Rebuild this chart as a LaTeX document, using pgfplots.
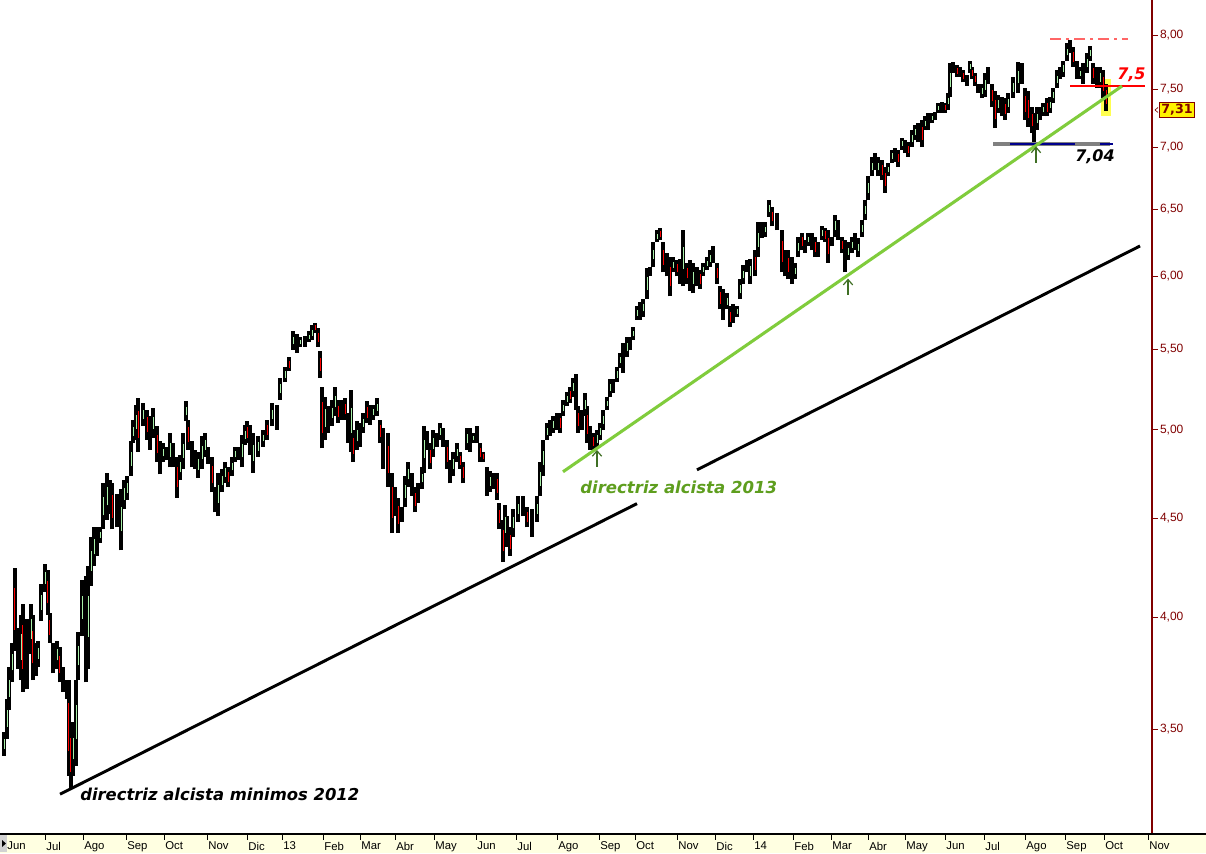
\documentclass[border=0pt]{standalone}
\usepackage{pgfplots}
\pgfplotsset{compat=1.18}
\usepackage{pgfplotstable}
\usetikzlibrary{arrows.meta}
\usepackage{fontspec}
\setmainfont{Liberation Sans}
\newfontfamily\annotfont{DejaVu Sans}
\definecolor{axred}{HTML}{800000}
\definecolor{trendgreen}{HTML}{80CC3C}
\definecolor{txtgreen}{HTML}{5E9E1E}
\definecolor{arrgreen}{HTML}{3F6F24}
\definecolor{candlegreen}{HTML}{A8F0A8}
\definecolor{stripyellow}{HTML}{FFFFE1}
\definecolor{hiyellow}{HTML}{FFFF50}

\pgfplotstableread{
x lo hi d
4 3.39 3.49 1
7 3.46 3.63 1
9 3.58 3.77 1
12 3.70 3.88 1
15 3.84 4.24 0
18 3.76 3.95 2
21 3.71 4.01 1
23 3.66 4.06 0
27 3.67 3.99 2
31 3.83 4.06 1
33 3.71 4.01 0
36 3.73 3.88 2
38 3.77 3.89 1
41 3.98 4.16 1
45 4.12 4.26 1
48 4.01 4.23 0
50 3.88 4.02 0
53 3.74 3.88 2
57 3.76 3.89 1
60 3.70 3.86 0
63 3.66 3.77 2
67 3.63 3.71 2
69 3.31 3.71 0
71 3.26 3.53 0
73 3.31 3.53 1
76 3.35 3.71 1
78 3.71 3.93 1
82 3.91 4.18 1
86 3.70 4.20 2
88 3.76 4.25 1
91 4.15 4.40 1
94 4.25 4.45 1
97 4.30 4.45 2
100 4.37 4.45 1
103 4.44 4.69 1
107 4.49 4.75 1
110 4.52 4.71 2
112 4.44 4.69 0
117 4.45 4.63 2
121 4.33 4.66 1
124 4.55 4.71 1
127 4.60 4.73 1
131 4.73 4.93 1
133 4.92 5.06 1
136 4.94 5.15 1
138 4.87 5.19 0
143 5.02 5.16 1
147 4.94 5.12 0
150 4.88 5.08 2
153 4.95 5.13 1
157 4.81 5.02 0
160 4.74 4.93 2
163 4.81 4.92 1
167 4.82 4.90 2
170 4.78 4.98 1
173 4.78 4.92 2
177 4.61 4.84 0
180 4.71 4.85 1
183 4.77 4.98 1
186 5.05 5.17 1
188 4.88 5.06 0
192 4.78 4.93 2
195 4.77 4.88 2
198 4.72 4.87 1
202 4.77 4.96 1
205 4.84 4.98 1
208 4.80 4.90 2
212 4.64 4.84 0
215 4.53 4.67 2
218 4.51 4.75 1
222 4.64 4.77 1
225 4.69 4.81 1
228 4.67 4.78 0
232 4.73 4.84 1
235 4.81 4.90 1
238 4.82 4.90 2
242 4.78 4.97 1
245 4.91 5.03 1
247 4.92 5.05 0
250 4.85 5.03 2
253 4.75 4.98 1
258 4.84 4.96 1
263 4.90 5.00 1
267 4.94 5.06 0
272 5.02 5.16 1
277 5.00 5.15 2
280 5.18 5.32 1
285 5.29 5.39 1
289 5.36 5.45 0
293 5.50 5.62 1
297 5.48 5.60 2
300 5.52 5.58 1
305 5.52 5.59 2
309 5.55 5.62 1
312 5.56 5.66 1
315 5.61 5.68 0
318 5.52 5.64 0
320 5.32 5.49 0
322 4.89 5.26 0
325 4.94 5.20 1
328 4.98 5.14 2
332 5.02 5.18 1
335 5.08 5.26 1
338 5.04 5.18 0
342 5.06 5.18 2
345 5.06 5.19 0
348 4.92 5.10 2
351 4.87 5.24 1
353 4.81 5.00 0
357 4.88 5.05 1
360 4.90 5.04 2
363 4.98 5.10 1
367 5.04 5.17 0
370 5.03 5.15 2
373 5.06 5.15 1
377 5.08 5.19 1
380 4.92 5.06 0
383 4.77 5.01 2
388 4.67 4.98 0
392 4.42 4.75 0
395 4.51 4.67 2
398 4.42 4.61 0
402 4.48 4.56 2
405 4.56 4.73 1
408 4.67 4.81 1
412 4.62 4.75 2
415 4.53 4.67 0
418 4.58 4.69 2
422 4.66 4.78 1
424 4.75 5.02 1
427 4.88 4.99 2
430 4.77 4.92 0
433 4.84 5.00 1
437 4.90 4.98 2
440 4.94 5.04 1
443 4.90 5.01 2
447 4.77 4.94 0
450 4.69 4.82 2
453 4.73 4.87 1
457 4.81 4.92 1
460 4.77 4.87 0
463 4.69 4.81 0
467 4.88 5.01 1
470 4.87 5.01 2
473 4.92 4.98 1
477 4.92 5.02 2
480 4.81 4.92 0
483 4.81 4.87 0
487 4.62 4.78 2
490 4.64 4.76 1
493 4.66 4.75 2
497 4.60 4.75 0
499 4.44 4.58 0
503 4.27 4.49 0
505 4.36 4.57 1
507 4.35 4.51 2
510 4.30 4.45 0
513 4.40 4.55 1
518 4.48 4.62 1
523 4.51 4.62 2
527 4.45 4.56 0
532 4.40 4.55 2
537 4.48 4.62 1
540 4.62 4.81 1
543 4.73 4.94 1
547 4.94 5.04 1
550 4.96 5.06 2
553 4.98 5.08 1
557 5.00 5.10 2
560 4.98 5.10 0
563 5.08 5.18 1
567 5.14 5.23 1
570 5.16 5.26 0
573 5.20 5.32 1
576 5.12 5.34 2
578 4.98 5.14 0
582 5.00 5.12 2
585 5.08 5.22 1
587 4.92 5.14 0
590 4.88 5.02 2
593 4.88 4.98 0
597 4.89 5.00 1
600 4.94 5.04 1
603 5.00 5.12 1
607 5.12 5.20 1
610 5.20 5.31 1
613 5.22 5.31 2
617 5.29 5.39 1
620 5.38 5.48 1
623 5.35 5.54 2
627 5.45 5.58 1
630 5.50 5.58 2
633 5.56 5.65 1
637 5.70 5.79 1
640 5.70 5.82 2
643 5.72 5.84 1
647 5.84 6.06 1
650 6.00 6.07 2
653 6.07 6.25 1
657 6.25 6.34 1
660 6.27 6.36 0
663 6.03 6.25 0
667 6.00 6.17 2
670 5.86 6.14 0
673 6.03 6.14 1
677 6.00 6.12 0
680 5.95 6.13 2
683 5.93 6.34 1
687 5.95 6.10 0
690 5.90 6.12 2
693 5.88 6.10 1
697 5.93 6.07 2
700 5.91 6.05 0
703 6.00 6.10 1
707 6.05 6.14 1
710 6.07 6.19 1
713 6.10 6.22 2
717 5.95 6.10 0
720 5.77 5.93 0
723 5.70 5.91 2
727 5.77 5.88 1
730 5.65 5.79 0
733 5.68 5.81 2
737 5.72 5.79 1
740 5.84 5.98 1
743 5.95 6.08 1
747 6.03 6.12 2
750 5.95 6.13 1
755 6.00 6.19 0
758 6.14 6.40 1
762 6.28 6.40 2
765 6.29 6.40 1
769 6.44 6.57 1
772 6.37 6.52 0
777 6.34 6.47 2
782 6.03 6.34 0
785 6.00 6.19 2
788 5.98 6.19 0
792 5.95 6.14 2
795 5.98 6.10 1
798 6.14 6.29 1
802 6.19 6.32 0
805 6.17 6.27 2
808 6.22 6.32 1
812 6.19 6.32 2
815 6.14 6.29 0
818 6.14 6.25 2
822 6.27 6.37 1
825 6.25 6.36 0
828 6.10 6.34 0
832 6.22 6.29 2
835 6.29 6.46 1
838 6.27 6.42 2
842 6.17 6.29 0
845 6.03 6.27 2
848 6.12 6.25 1
852 6.17 6.29 1
855 6.19 6.32 2
858 6.14 6.28 1
862 6.29 6.42 1
865 6.42 6.57 1
868 6.57 6.76 1
872 6.76 6.92 1
875 6.81 6.95 2
878 6.76 6.92 1
882 6.73 6.89 0
885 6.63 6.84 0
888 6.76 6.87 1
892 6.87 6.98 1
895 6.88 6.99 2
898 6.84 6.98 0
902 6.98 7.08 1
905 6.95 7.06 2
908 6.92 7.04 0
912 7.00 7.14 1
915 7.06 7.19 1
918 7.04 7.20 2
922 7.00 7.23 0
925 7.14 7.26 1
928 7.14 7.29 2
932 7.20 7.29 1
935 7.23 7.30 2
938 7.29 7.38 1
942 7.29 7.39 2
945 7.29 7.38 0
948 7.32 7.47 1
950 7.43 7.74 1
953 7.65 7.75 2
957 7.61 7.72 0
960 7.61 7.70 2
963 7.56 7.67 0
967 7.53 7.63 2
970 7.65 7.76 1
972 7.59 7.70 0
975 7.53 7.65 0
978 7.47 7.55 2
982 7.42 7.55 1
985 7.43 7.65 1
988 7.55 7.70 2
992 7.34 7.55 0
995 7.16 7.48 0
998 7.29 7.45 1
1002 7.26 7.43 2
1005 7.23 7.42 0
1008 7.29 7.47 1
1013 7.42 7.61 1
1018 7.47 7.75 1
1022 7.55 7.74 2
1025 7.23 7.51 0
1028 7.17 7.48 0
1032 7.12 7.34 0
1034 7.04 7.29 2
1037 7.14 7.34 1
1040 7.23 7.34 2
1043 7.26 7.38 1
1047 7.26 7.42 0
1050 7.29 7.43 1
1053 7.38 7.51 1
1057 7.51 7.67 1
1060 7.59 7.70 2
1063 7.61 7.76 1
1067 7.76 7.92 1
1070 7.83 7.95 2
1073 7.70 7.89 0
1077 7.59 7.76 2
1080 7.59 7.70 1
1083 7.55 7.74 2
1087 7.65 7.83 1
1090 7.76 7.90 1
1093 7.55 7.74 0
1097 7.51 7.70 2
1100 7.51 7.70 1
1103 7.42 7.67 0
1106 7.31 7.55 0
}\candles

\begin{document}
\begin{tikzpicture}[x=0.75pt,y=0.75pt]
\useasboundingbox (0,-19) rectangle (1206,834);
\fill[white] (0,-19) rectangle (1206,834);
\fill[stripyellow] (0,-19) rectangle (1206,0);
\begin{axis}[
  at={(0,0)}, anchor=south west,
  scale only axis, width=864pt, height=625.5pt,
  xmin=0, xmax=1152,
  ymode=log, ymin=3.089, ymax=8.34,
  axis x line*=bottom, axis y line*=right,
  x axis line style={draw=black, line width=0.8pt},
  y axis line style={draw=axred, line width=1.1pt},
  tick align=outside, major tick length=4.5pt,
  minor tick num=0, yminorticks=false, xminorticks=false,
  xtick={6,45,83,126,164,207,247,282,323,360,395,434,476,516,557,599,635,677,715,753,793,831,868,905,945,984,1025,1065,1104,1148},
  xticklabels={Jun,Jul,Ago,Sep,Oct,Nov,Dic,13,Feb,Mar,Abr,May,Jun,Jul,Ago,Sep,Oct,Nov,Dic,14,Feb,Mar,Abr,May,Jun,Jul,Ago,Sep,Oct,Nov},
  xtick style={draw=black, line width=0.6pt},
  xticklabel style={anchor=north west, font=\fontsize{8.5}{9}\selectfont, xshift=-2.5pt, yshift=2pt, text=black},
  ytick={3.5,4,4.5,5,5.5,6,6.5,7,7.5,8},
  yticklabels={{3,50},{4,00},{4,50},{5,00},{5,50},{6,00},{6,50},{7,00},{7,50},{8,00}},
  ytick style={draw=axred, line width=0.6pt},
  yticklabel style={anchor=west, font=\fontsize{9}{10}\selectfont, text=axred, xshift=-2pt},
  clip=true,
]
% highlight of the last candle
\fill[hiyellow] (axis cs:1101,7.59) rectangle (axis cs:1111,7.265);
% high-low ranges
\addplot[draw=none, mark=none, error bars/.cd, y dir=plus, y explicit, error mark=none,
  error bar style={draw=black, line width=3.3pt}]
  table[x=x, y=lo, y error plus expr={\thisrow{hi}-\thisrow{lo}}] {\candles};
% red bodies
\addplot[draw=none, mark=none, restrict expr to domain={\thisrow{d}}{0:0},
  error bars/.cd, y dir=plus, y explicit, error mark=none,
  error bar style={draw=red, line width=0.75pt}]
  table[x=x, y expr={\thisrow{lo}+0.25*(\thisrow{hi}-\thisrow{lo})}, y error plus expr={0.5*(\thisrow{hi}-\thisrow{lo})}] {\candles};
% green bodies
\addplot[draw=none, mark=none, restrict expr to domain={\thisrow{d}}{1:1},
  error bars/.cd, y dir=plus, y explicit, error mark=none,
  error bar style={draw=candlegreen, line width=0.6pt}]
  table[x=x, y expr={\thisrow{lo}+0.3*(\thisrow{hi}-\thisrow{lo})}, y error plus expr={0.4*(\thisrow{hi}-\thisrow{lo})}] {\candles};
% support lines
\addplot[gray, line width=2.4pt] coordinates {(993,7.026) (1110,7.026)};
\addplot[blue!55!black, line width=0.8pt] coordinates {(1010,7.026) (1075,7.026)};
\addplot[blue!55!black, line width=0.8pt] coordinates {(1100,7.026) (1113,7.026)};
\addplot[red, line width=1pt] coordinates {(1070,7.53) (1145,7.53)};
\addplot[red!60, dash pattern=on 8pt off 4pt on 2pt off 4pt, line width=0.8pt] coordinates {(1050,7.962) (1128,7.962)};
% trendlines
\addplot[black, line width=2.2pt] coordinates {(60,3.239) (637,4.578)};
\addplot[black, line width=2.2pt] coordinates {(697,4.766) (1140,6.222)};
\addplot[trendgreen, line width=2.3pt] coordinates {(563,4.755) (1122,7.528)};
% arrows
\draw[arrgreen, line width=0.9pt, -{Straight Barb[length=4pt,width=7pt]}] (axis cs:597,4.784) -- (axis cs:597,4.88);
\draw[arrgreen, line width=0.9pt, -{Straight Barb[length=4pt,width=7pt]}] (axis cs:848,5.87) -- (axis cs:848,5.985);
\draw[arrgreen, line width=0.9pt, -{Straight Barb[length=4pt,width=7pt]}] (axis cs:1036,6.87) -- (axis cs:1036,7.005);
% labels
\node[anchor=west, inner sep=0pt, font=\annotfont\bfseries\itshape\fontsize{12.3}{14}\selectfont] at (axis cs:80,3.24) {directriz alcista minimos 2012};
\node[anchor=west, inner sep=0pt, text=txtgreen, font=\annotfont\bfseries\itshape\fontsize{12.4}{14}\selectfont] at (axis cs:580,4.666) {directriz alcista 2013};
\node[anchor=west, inner sep=0pt, font=\annotfont\bfseries\itshape\fontsize{12}{14}\selectfont] at (axis cs:1075,6.92) {7,04};
\node[anchor=west, inner sep=0pt, text=red, font=\annotfont\bfseries\itshape\fontsize{12}{14}\selectfont] at (axis cs:1117,7.63) {7,5};
\end{axis}
\draw[black, line width=0.8pt] (0,0) -- (1206,0);
% left scroll marker
\fill[gray!35] (0,-18) rectangle (7,-1);
\fill[black] (2,-6) -- (2,-13) -- (6,-9.5) -- cycle;
% last price label
\node[fill=yellow, draw=axred, text=axred, line width=0.6pt, inner xsep=1.5pt, inner ysep=1.5pt, font=\annotfont\bfseries\fontsize{9.5}{10}\selectfont] at (1177,724) {7,31};
\draw[axred, line width=0.5pt] (1158,726.5) -- (1155,724) -- (1158,721.5);
\end{tikzpicture}
\end{document}
